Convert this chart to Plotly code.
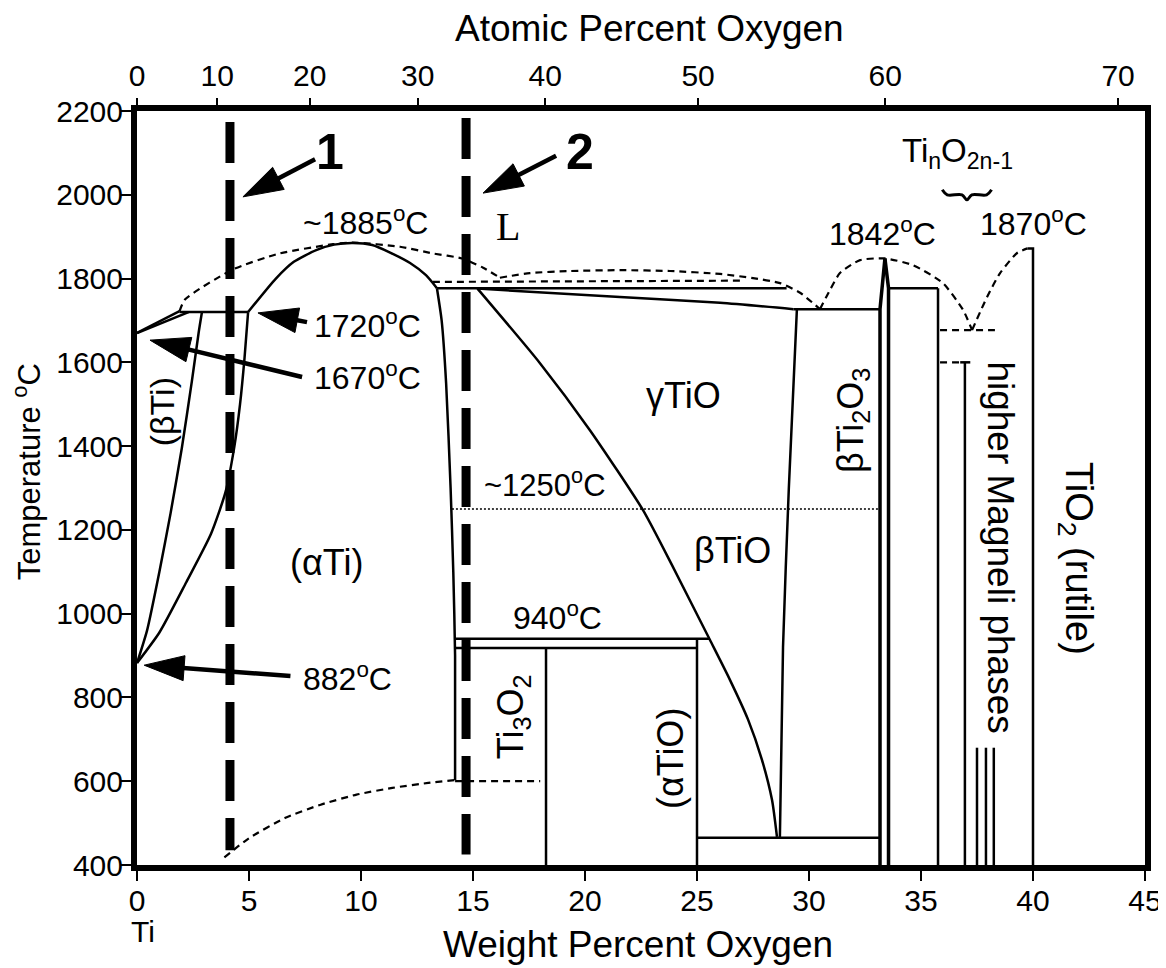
import numpy as np
import plotly.graph_objects as go

# ---------------- axis data ----------------
X_TICKS = [0, 5, 10, 15, 20, 25, 30, 35, 40, 45]
Y_TICKS = [400, 600, 800, 1000, 1200, 1400, 1600, 1800, 2000, 2200]
AT_PCT_LABELS = ["0", "10", "20", "30", "40", "50", "60", "70"]
AT_PCT_POS_WT = [0, 3.58, 7.71, 12.53, 18.22, 25.05, 33.4, 43.8]

# ---------------- solid phase boundaries (wt% O, degC) ----------------
BETA_LIQUIDUS = [(0, 1670), (1.9, 1722)]
BETA_SOLIDUS = [(0, 1670), (2.3, 1720)]
PERITECTIC_1720 = [(1.9, 1720), (4.96, 1720)]
BETA_TRANSUS = [(0, 882), (0.45, 960), (1.0, 1100), (1.5, 1240), (2.0, 1395),
                (2.45, 1555), (2.75, 1670), (2.9, 1720)]
ALPHA_TRANSUS = [(0, 882), (1.0, 955), (2.2, 1075), (3.3, 1190), (3.95, 1290),
                 (4.35, 1400), (4.6, 1500), (4.8, 1610), (4.96, 1720)]
ALPHA_TI_DOME = [(4.96, 1720), (6.2, 1800), (7.0, 1840), (8.0, 1868), (8.8, 1881),
                 (9.64, 1885), (10.5, 1880), (11.3, 1862), (12.19, 1837),
                 (12.9, 1808), (13.39, 1777)]
ALPHA_TI_SOLVUS = [(13.39, 1777), (13.6, 1700), (13.8, 1550), (14.0, 1300),
                   (14.12, 1100), (14.2, 900), (14.2, 603)]
LINE_1777 = [(13.39, 1777), (29.0, 1777)]
GAMMA_TOP = [(15.2, 1776), (21.56, 1756), (26.03, 1742), (29.3, 1727)]
LINE_1727 = [(29.3, 1727), (33.17, 1727)]
GAMMA_BETA_TIO = [(15.2, 1776), (17.99, 1598), (20.22, 1438), (22.59, 1247),
                  (23.93, 1111), (25.58, 937), (26.47, 842), (27.28, 747),
                  (27.9, 651), (28.35, 555), (28.57, 467)]
TIO_RIGHT = [(29.46, 1727), (29.1, 1300), (28.84, 920), (28.7, 465)]
LINE_940 = [(14.2, 940), (25.58, 940)]
LINE_918 = [(14.2, 918), (25.0, 918)]
ALPHA_TIO_LEFT = [(25.0, 940), (25.0, 400)]
TI3O2_RIGHT = [(18.26, 918), (18.26, 400)]
ALPHA_TIO_BOTTOM = [(25.0, 465), (33.17, 465)]
TI2O3_LEFT = [(33.17, 400), (33.17, 1727), (33.39, 1848)]
TI2O3_RIGHT = [(33.55, 400), (33.55, 1777), (33.39, 1848)]
BOX_1777 = [(33.55, 1777), (35.76, 1777)]
MAGNELI_1 = [(35.76, 1777), (35.76, 400)]
MAGNELI_2 = [(36.96, 1600), (36.96, 400)]
MAGNELI_CAP = [(36.75, 1600), (37.2, 1600)]
MAGNELI_SHORT_W = [37.5, 37.9, 38.25]
MAGNELI_SHORT_T = (680, 400)
RUTILE = [(39.75, 1872), (40.0, 1872), (40.0, 400)]

# ---------------- dashed boundaries ----------------
LIQUIDUS_TI = [(1.9, 1722), (2.14, 1750), (4.29, 1822), (6.38, 1860), (8.75, 1882),
               (9.64, 1886), (11.74, 1876), (13.21, 1860), (14.51, 1848),
               (15.45, 1826), (16.2, 1802)]
LIQUIDUS_TIO = [(16.2, 1802), (17.54, 1813), (19.33, 1818), (21.56, 1820),
                (23.79, 1818), (26.03, 1811), (27.5, 1801), (28.71, 1789),
                (29.6, 1766), (30.49, 1727)]
DASHED_1792 = [(13.21, 1792), (27.0, 1795)]
LIQUIDUS_TI2O3 = [(30.49, 1727), (30.94, 1773), (31.38, 1813), (32.28, 1844),
                  (33.39, 1848), (34.64, 1832), (35.98, 1789), (36.88, 1725),
                  (37.28, 1677)]
LIQUIDUS_TIO2 = [(37.28, 1677), (37.95, 1756), (38.53, 1813), (39.29, 1861),
                 (39.75, 1872)]
DASHED_1677 = [(35.85, 1677), (38.3, 1677)]
DASHED_1600 = [(35.85, 1600), (36.85, 1600)]
ORDER_CURVE = [(3.9, 418), (5.0, 464), (6.6, 512), (8.2, 544), (9.8, 568),
               (11.4, 584), (13.0, 596), (14.2, 603)]
DASHED_600 = [(14.2, 600), (18.0, 600)]
DOTTED_1250 = [(14.06, 1250), (33.17, 1250)]

# composition markers (thick dashed verticals)
ALLOY_W = [4.15, 14.69]
ALLOY_T = [(2174, 435), (2183, 425)]

# arrows: (head, tail)
ARROWS = [((4.73, 1995), (7.95, 2085)),
          ((15.45, 2004), (18.71, 2093)),
          ((5.4, 1718), (7.59, 1696)),
          ((0.58, 1653), (7.37, 1565)),
          ((0.32, 877), (6.85, 851))]

FONT = "Liberation Sans, Arial, Helvetica, sans-serif"

fig = go.Figure()


def add_line(pts, width=2.5, dash=None, shape="linear", color="black"):
    w = [p[0] for p in pts]
    t = [p[1] for p in pts]
    line = dict(color=color, width=width, shape=shape)
    if shape == "spline":
        line["smoothing"] = 0.6
    if dash:
        line["dash"] = dash
    fig.add_trace(go.Scatter(x=w, y=t, mode="lines", line=line,
                             hoverinfo="skip", showlegend=False))


# solid curves
for pts in [BETA_TRANSUS, ALPHA_TRANSUS, ALPHA_TI_DOME, ALPHA_TI_SOLVUS,
            GAMMA_BETA_TIO, GAMMA_TOP, TIO_RIGHT]:
    add_line(pts, shape="spline")
for pts in [BETA_LIQUIDUS, BETA_SOLIDUS, PERITECTIC_1720, LINE_1777, LINE_1727,
            LINE_940, LINE_918, ALPHA_TIO_LEFT, TI3O2_RIGHT, ALPHA_TIO_BOTTOM,
            BOX_1777, MAGNELI_1, MAGNELI_2, MAGNELI_CAP, RUTILE]:
    add_line(pts)
for pts in [TI2O3_LEFT, TI2O3_RIGHT]:
    add_line(pts, width=3.5)
for w in MAGNELI_SHORT_W:
    add_line([(w, MAGNELI_SHORT_T[0]), (w, MAGNELI_SHORT_T[1])], width=2.5)

# dashed curves
DASH = "7px,5px"
for pts in [LIQUIDUS_TI, LIQUIDUS_TIO, LIQUIDUS_TI2O3, LIQUIDUS_TIO2, ORDER_CURVE]:
    add_line(pts, width=2.2, dash=DASH, shape="spline")
for pts in [DASHED_1792, DASHED_1677, DASHED_1600, DASHED_600]:
    add_line(pts, width=2.2, dash=DASH)
add_line(DOTTED_1250, width=1.6, dash="2px,2px")

# thick dashed composition lines
for w, (t0, t1) in zip(ALLOY_W, ALLOY_T):
    add_line([(w, t0), (w, t1)], width=9, dash="41px,17px")

# arrows built in pixel space
PX_W = 1008 / 45.0
PX_T = 754 / 1800.0


def add_arrow(head, tail, head_len=40, head_w=25, width=4.5):
    hx, hy = head[0] * PX_W, head[1] * PX_T
    tx, ty = tail[0] * PX_W, tail[1] * PX_T
    dx, dy = hx - tx, hy - ty
    L = np.hypot(dx, dy)
    ux, uy = dx / L, dy / L
    nx, ny = -uy, ux
    bx, by = hx - ux * head_len, hy - uy * head_len
    tri_x = [hx, bx + nx * head_w / 2, bx - nx * head_w / 2, hx]
    tri_y = [hy, by + ny * head_w / 2, by - ny * head_w / 2, hy]
    fig.add_trace(go.Scatter(x=[v / PX_W for v in tri_x], y=[v / PX_T for v in tri_y],
                             mode="lines", fill="toself", fillcolor="black",
                             line=dict(color="black", width=1),
                             hoverinfo="skip", showlegend=False))
    sx, sy = hx - ux * head_len * 0.9, hy - uy * head_len * 0.9
    fig.add_trace(go.Scatter(x=[tx / PX_W, sx / PX_W], y=[ty / PX_T, sy / PX_T],
                             mode="lines", line=dict(color="black", width=width),
                             hoverinfo="skip", showlegend=False))


for head, tail in ARROWS:
    add_arrow(head, tail)

# curly brace under Ti_nO_2n-1
BRACE_CENTER = (37.05, 2000)
BRACE_HALF_W = 1.1
bc_w, bc_t = BRACE_CENTER
bw = BRACE_HALF_W
brace_x = [bc_w - bw, bc_w - bw * 0.8, bc_w - bw * 0.2, bc_w, bc_w + bw * 0.2, bc_w + bw * 0.8, bc_w + bw]
brace_y = [bc_t + 12, bc_t, bc_t, bc_t - 12, bc_t, bc_t, bc_t + 12]
fig.add_trace(go.Scatter(x=brace_x, y=brace_y, mode="lines",
                         line=dict(color="black", width=3, shape="spline", smoothing=1.0),
                         hoverinfo="skip", showlegend=False))

# invisible trace to activate the top (atomic %) axis
fig.add_trace(go.Scatter(x=[0, 45], y=[400, 400], xaxis="x2", mode="markers",
                         marker=dict(opacity=0), hoverinfo="skip", showlegend=False))

# ---------------- text ----------------
ANN = []


def txt(x, y, s, size=31, angle=0, xanchor="center", yanchor="middle", family=FONT,
        xref="x", yref="y"):
    ANN.append(dict(x=x, y=y, xref=xref, yref=yref, text=s, showarrow=False,
                    textangle=angle, xanchor=xanchor, yanchor=yanchor,
                    font=dict(size=size, color="black", family=family)))


DEG = "<sup>o</sup>C"
txt(8.62, 2102, "<b>1</b>", size=50)
txt(19.78, 2102, "<b>2</b>", size=50)
txt(16.56, 1925, "L", size=40, family="Liberation Serif, Times New Roman, serif")
txt(10.18, 1938, "~1885" + DEG, size=32)
txt(7.81, 1692, "1720" + DEG, size=32, xanchor="left")
txt(7.81, 1568, "1670" + DEG, size=32, xanchor="left")
txt(7.34, 848, "882" + DEG, size=32, xanchor="left")
txt(33.26, 1912, "1842" + DEG, size=32)
txt(40.0, 1936, "1870" + DEG, size=32)
txt(36.65, 2100, "Ti<sub>n</sub>O<sub>2n-1</sub>", size=33)
txt(24.38, 1522, "γTiO", size=36)
txt(18.21, 1313, "~1250" + DEG, size=31)
txt(26.6, 1152, "βTiO", size=36)
txt(31.96, 1462, "βTi<sub>2</sub>O<sub>3</sub>", size=36, angle=-90)
txt(18.75, 995, "940" + DEG, size=32)
txt(16.79, 753, "Ti<sub>3</sub>O<sub>2</sub>", size=36, angle=-90)
txt(23.79, 655, "(αTiO)", size=36, angle=-90)
txt(38.53, 1158, "higher Magneli phases", size=37, angle=90)
txt(41.92, 1133, "TiO<sub>2</sub> (rutile)", size=38, angle=90)
txt(1.12, 1481, "(βTi)", size=34, angle=-90)
txt(8.48, 1123, "(αTi)", size=36)

# axis titles
txt(0.508, 1.110, "Atomic Percent Oxygen", size=37, xref="paper", yref="paper")
txt(0.497, -0.105, "Weight Percent Oxygen", size=37, xref="paper", yref="paper")
txt(-0.109, 0.521, "Temperature " + DEG, size=31, angle=-90, xref="paper", yref="paper")
txt(0.006, -0.088, "Ti", size=30, xref="paper", yref="paper")

axis_common = dict(showgrid=False, zeroline=False, ticks="outside", tickwidth=2,
                   tickcolor="black", automargin=False,
                   tickfont=dict(size=30, color="black", family=FONT))

# the page body adds an 8 px offset, so the figure is 8 px smaller and the
# margins 8 px narrower on the left/top to land the plot frame where it belongs
fig.update_layout(
    width=1158, height=960,
    margin=dict(l=129, r=21, t=103, b=103),
    paper_bgcolor="white", plot_bgcolor="white",
    font=dict(family=FONT, color="black"),
    showlegend=False,
    annotations=ANN,
    xaxis=dict(range=[0, 45], tickvals=X_TICKS, ticklen=10, showline=True,
               linewidth=6, linecolor="black", mirror=True, ticklabelstandoff=-6,
               **axis_common),
    xaxis2=dict(range=[0, 45], overlaying="x", side="top", tickvals=AT_PCT_POS_WT,
                ticktext=AT_PCT_LABELS, ticklen=12, showline=False, **axis_common),
    yaxis=dict(range=[400, 2200], tickvals=Y_TICKS, ticklen=10, showline=True,
               linewidth=6, linecolor="black", mirror=True, ticklabelstandoff=-8,
               **axis_common),
)

fig.write_html("out.html")
